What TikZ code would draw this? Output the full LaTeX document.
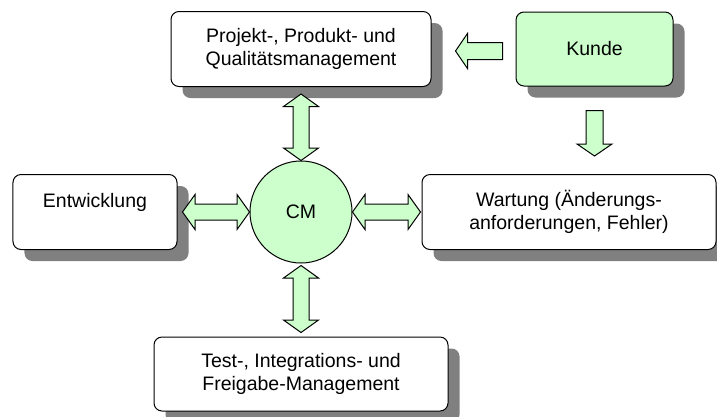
\documentclass[tikz,border=0pt]{standalone}
\usepackage{fontspec}
\setmainfont{Liberation Sans}
\usetikzlibrary{calc,shadows}
\definecolor{cmgreen}{HTML}{CCFFCC}
\definecolor{shadowgray}{HTML}{808080}

\tikzset{
  labelfont/.style={font=\fontsize{19.5bp}{23.5bp}\selectfont},
  box/.style={draw=black, line width=1bp, rounded corners=8bp, fill=white,
    inner sep=0pt, align=center, labelfont,
    drop shadow={shadow xshift=11.5bp, shadow yshift=-11.5bp,
      fill=shadowgray, opacity=1}},
  hub/.style={circle, draw=black, line width=1bp, fill=cmgreen,
    minimum size=102bp, inner sep=0pt, labelfont},
  % block arrow with a head at both ends
  dblock/.style={fill=cmgreen, draw=black, line width=1bp, line join=miter,
    to path={
      let \p1=(\tikztostart), \p2=(\tikztotarget),
          \n1={atan2(\y2-\y1,\x2-\x1)} in
      (\p1)
      -- ($(\p1)+(\n1:12.5bp)+(\n1+90:17.5bp)$)
      -- ($(\p1)+(\n1:12.5bp)+(\n1+90:8bp)$)
      -- ($(\p2)+(\n1:-12.5bp)+(\n1+90:8bp)$)
      -- ($(\p2)+(\n1:-12.5bp)+(\n1+90:17.5bp)$)
      -- (\p2)
      -- ($(\p2)+(\n1:-12.5bp)+(\n1-90:17.5bp)$)
      -- ($(\p2)+(\n1:-12.5bp)+(\n1-90:8bp)$)
      -- ($(\p1)+(\n1:12.5bp)+(\n1-90:8bp)$)
      -- ($(\p1)+(\n1:12.5bp)+(\n1-90:17.5bp)$)
      -- cycle}},
  % block arrow with a single head at the target
  sblock/.style={fill=cmgreen, draw=black, line width=1bp, line join=miter,
    to path={
      let \p1=(\tikztostart), \p2=(\tikztotarget),
          \n1={atan2(\y2-\y1,\x2-\x1)} in
      ($(\p1)+(\n1+90:8.5bp)$)
      -- ($(\p2)+(\n1:-12bp)+(\n1+90:8.5bp)$)
      -- ($(\p2)+(\n1:-12bp)+(\n1+90:17.5bp)$)
      -- (\p2)
      -- ($(\p2)+(\n1:-12bp)+(\n1-90:17.5bp)$)
      -- ($(\p2)+(\n1:-12bp)+(\n1-90:8.5bp)$)
      -- ($(\p1)+(\n1-90:8.5bp)$)
      -- cycle}},
}

\begin{document}
\begin{tikzpicture}[x=1bp,y=-1bp]
  \useasboundingbox (0,0) rectangle (717,416);

  % boxes
  \node[box, minimum width=260bp, minimum height=75bp] (proj) at (301,49)
    {Projekt-, Produkt- und\\Qualitätsmanagement};
  \node[box, fill=cmgreen, minimum width=157bp, minimum height=74bp] (kunde) at (594.5,49)
    {Kunde};
  \node[box, minimum width=164bp, minimum height=75bp] (entw) at (95,212)
    {Entwicklung\\\mbox{}};
  \node[box, minimum width=294bp, minimum height=75bp] (wart) at (569,212)
    {Wartung (Änderungs-\\anforderungen, Fehler)};
  \node[box, minimum width=294bp, minimum height=74bp] (test) at (301,374)
    {Test-, Integrations- und\\Freigabe-Management};
  \node[hub] (cm) at (301,212) {CM};

  % connectors
  \draw[dblock] ($(proj.south)+(0,7)$) to (cm.north);
  \draw[dblock] ($(cm.south)+(0,2)$) to ($(test.north)+(0,-4)$);
  \draw[dblock] ($(entw.east)+(5,0)$) to (cm.west);
  \draw[dblock] (cm.east) to ($(wart.west)+(-1,0)$);
  \draw[sblock] ($(kunde.west)+(-13,2)$) to ($(proj.east)+(24,2)$);
  \draw[sblock] ($(kunde.south)+(0,24)$) to ($(kunde.south |- wart.north)+(0,-18)$);
\end{tikzpicture}
\end{document}
